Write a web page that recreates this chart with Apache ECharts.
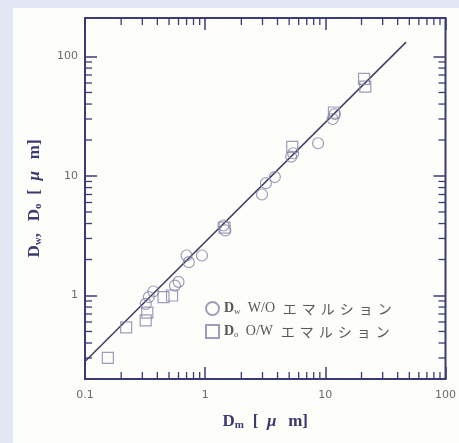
<!DOCTYPE html>
<html><head><meta charset="utf-8">
<script src="https://cdn.jsdelivr.net/npm/echarts@6/dist/echarts.min.js"></script>
<style>html,body{margin:0;padding:0;background:#e3e7f3;}#c{width:459px;height:443px;}</style>
</head><body><div id="c"></div>
<script>
// ---- data ----
const xTickLabels = ['0.1', '1', '10', '100'];
const yTickLabels = ['1', '10', '100'];
const xMinorTicks = [0.2,0.3,0.4,0.5,0.6,0.7,0.8,0.9, 2,3,4,5,6,7,8,9, 20,30,40,50,60,70,80,90];
const yMinorTicks = [0.3,0.4,0.5,0.6,0.7,0.8,0.9, 2,3,4,5,6,7,8,9, 20,30,40,50,60,70,80,90];

// W/O emulsion (circles): Dm, Dw
const dwX = [0.32, 0.34, 0.37, 0.56, 0.60, 0.70, 0.73, 0.94, 1.42, 1.47, 2.97, 3.2, 3.8, 5.2, 5.4, 8.7, 11.5, 12.0];
const dwY = [0.85, 0.97, 1.08, 1.21, 1.30, 2.16, 1.90, 2.16, 3.85, 3.5, 7.0, 8.7, 9.8, 14.5, 15.5, 18.8, 30, 33];
// O/W emulsion (squares): Dm, Do
const doX = [0.155, 0.22, 0.32, 0.33, 0.45, 0.53, 1.45, 5.3, 11.8, 21, 21.5];
const doY = [0.30, 0.54, 0.62, 0.72, 0.97, 1.0, 3.7, 17.5, 34, 65, 56];
// fitted line end points
const lineX = [0.1, 47];
const lineY = [0.28, 132];

const seriesNames = ['Dw W/O エマルション', 'Do O/W エマルション'];
const emulsionWord = 'エマルション';
const spread = s => Array.from(s).map(c => '{j|' + c + '}').join('');
const legendLabels = [
  '{b|D}{s|w}  {t|W/O} ' + spread(emulsionWord),
  '{b|D}{s|o}  {t|O/W} ' + spread(emulsionWord)
];

// ---- chart ----
const frame = '#3b3b78';
const markC = '#8585ab';
const chart = echarts.init(document.getElementById('c'));
const zip = (a, b) => a.map((v, i) => [v, b[i]]);

function xTick(params, api) {
  const cs = params.coordSys, L = 7;
  const x = api.coord([api.value(0), 1])[0];
  const st = {stroke: frame, lineWidth: 1.3};
  return {type: 'group', children: [
    {type: 'line', shape: {x1: x, y1: cs.y + cs.height, x2: x, y2: cs.y + cs.height - L}, style: st},
    {type: 'line', shape: {x1: x, y1: cs.y, x2: x, y2: cs.y + L}, style: st}
  ]};
}
function yTick(params, api) {
  const cs = params.coordSys, L = 7;
  const y = api.coord([1, api.value(1)])[1];
  const st = {stroke: frame, lineWidth: 1.3};
  return {type: 'group', children: [
    {type: 'line', shape: {x1: cs.x, y1: y, x2: cs.x + L, y2: y}, style: st},
    {type: 'line', shape: {x1: cs.x + cs.width, y1: y, x2: cs.x + cs.width - L, y2: y}, style: st}
  ]};
}

const tc = '#3a3a70';
const titleRich = {
  b: {fontFamily: 'Liberation Serif', fontWeight: 'bold', fontSize: 17, color: tc},
  c: {fontFamily: 'Liberation Serif', fontWeight: 'bold', fontSize: 17, color: tc, padding: [0, 7, 0, 0]},
  br: {fontFamily: 'Liberation Serif', fontWeight: 'bold', fontSize: 17, color: tc, padding: [0, 4, 0, 4]},
  mu: {fontFamily: 'Liberation Serif', fontWeight: 'bold', fontStyle: 'italic', fontSize: 17, color: tc, padding: [0, 7, 0, 0]},
  s: {fontFamily: 'Liberation Serif', fontWeight: 'bold', fontSize: 11, color: tc, verticalAlign: 'bottom', padding: [8, 0, 0, 0]}
};
const majorTick = {show: true, inside: true, length: 12, lineStyle: {color: frame, width: 1.5}};
const axisLbl = {color: '#6a6a6a', fontSize: 11, fontFamily: 'DejaVu Sans'};

chart.setOption({
  animation: false,
  backgroundColor: '#e3e7f3',
  graphic: [{type: 'rect', shape: {x: 13, y: 8, width: 446, height: 435}, style: {fill: '#fdfdf9'}, z: -10}],
  grid: {left: 85, right: 13, top: 18, bottom: 64, show: true, borderColor: frame, borderWidth: 2, backgroundColor: 'transparent'},
  legend: {
    orient: 'vertical', left: 200, top: 296, itemGap: 8, itemWidth: 13, itemHeight: 13,
    data: seriesNames,
    formatter: n => legendLabels[seriesNames.indexOf(n)],
    textStyle: {
      color: '#555', fontSize: 13,
      rich: {
        b: {fontFamily: 'Liberation Serif', fontWeight: 'bold', fontSize: 14, color: '#555'},
        s: {fontFamily: 'Liberation Serif', fontSize: 9, color: '#555', verticalAlign: 'bottom', padding: [6, 0, 0, 0]},
        t: {fontFamily: 'Liberation Serif', fontSize: 14, color: '#555', padding: [0, 4, 0, 0]},
        j: {fontFamily: 'Noto Sans CJK JP', fontSize: 14, color: '#595959', padding: [0, 5, 0, 0]}
      }
    }
  },
  xAxis: [
    {type: 'log', logBase: 10, min: 0.1, max: 100, position: 'bottom',
     name: '{b|D}{s|m} {br|[} {mu|μ} {b|m]}', nameLocation: 'middle', nameGap: 33,
     nameTextStyle: {fontSize: 17, rich: titleRich},
     axisLine: {show: false}, axisTick: majorTick, splitLine: {show: false},
     axisLabel: {...axisLbl, margin: 11, formatter: v => {const i = Math.round(Math.log10(v)) + 1; return xTickLabels[i] || '';}}},
    {type: 'log', logBase: 10, min: 0.1, max: 100, position: 'top',
     axisLine: {show: false}, axisTick: majorTick, splitLine: {show: false}, axisLabel: {show: false}}
  ],
  yAxis: [
    {type: 'log', logBase: 10, min: 0.2, max: 210, position: 'left',
     name: '{b|D}{s|w}{c|,} {b|D}{s|o} {br|[} {mu|μ} {b|m]}', nameLocation: 'middle', nameGap: 41, nameRotate: 90,
     nameTextStyle: {fontSize: 17, rich: titleRich},
     axisLine: {show: false}, axisTick: majorTick, splitLine: {show: false},
     axisLabel: {...axisLbl, margin: 7, showMinLabel: false, showMaxLabel: false,
       formatter: v => {const l = Math.log10(v); if (Math.abs(l - Math.round(l)) > 1e-6) return ''; return yTickLabels[Math.round(l)] || '';}}},
    {type: 'log', logBase: 10, min: 0.2, max: 210, position: 'right',
     axisLine: {show: false}, axisTick: majorTick, splitLine: {show: false}, axisLabel: {show: false}}
  ],
  series: [
    {type: 'line', data: zip(lineX, lineY), symbol: 'none', lineStyle: {color: '#3d3d66', width: 1.5}, silent: true, z: 2},
    {name: seriesNames[0], type: 'scatter', data: zip(dwX, dwY), symbol: 'circle', symbolSize: 11,
     itemStyle: {color: 'rgba(255,255,255,0)', borderColor: markC, borderWidth: 1.2}, z: 3},
    {name: seriesNames[1], type: 'scatter', data: zip(doX, doY), symbol: 'rect', symbolSize: 11,
     itemStyle: {color: 'rgba(255,255,255,0)', borderColor: markC, borderWidth: 1.2}, z: 3},
    {type: 'custom', data: xMinorTicks.map(v => [v, 1]), renderItem: xTick, silent: true, z: 5},
    {type: 'custom', data: yMinorTicks.map(v => [1, v]), renderItem: yTick, silent: true, z: 5}
  ]
});
</script></body></html>
